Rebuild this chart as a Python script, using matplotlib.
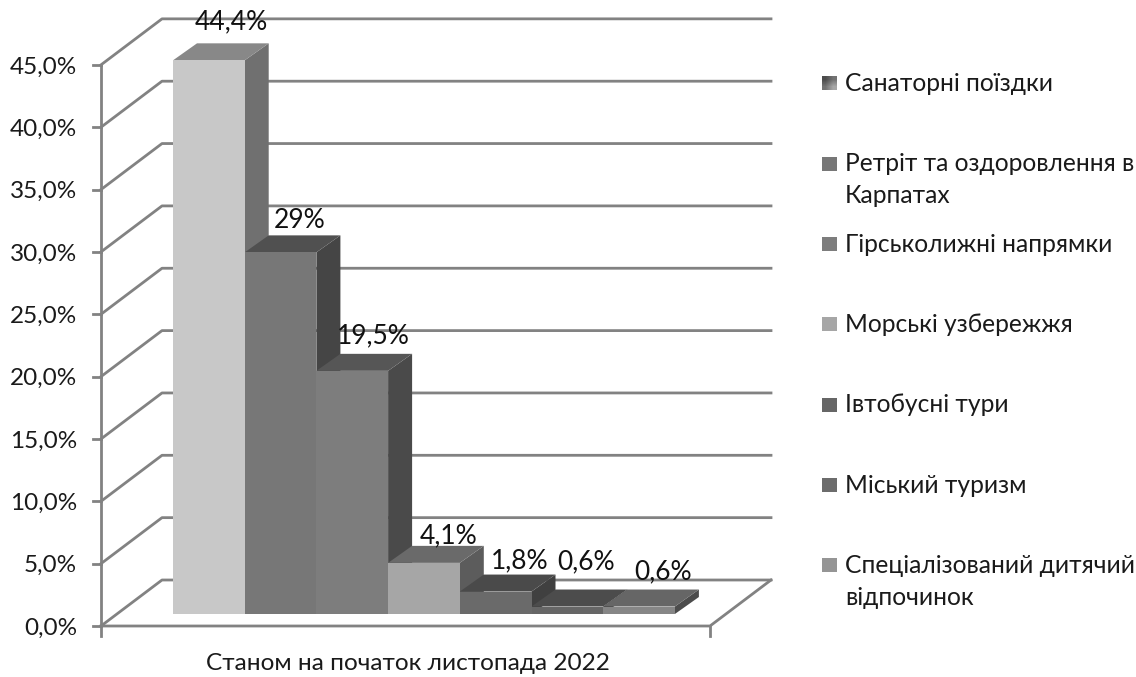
import matplotlib
matplotlib.use("Agg")
import matplotlib.pyplot as plt
from matplotlib.patches import Polygon, Rectangle
import numpy as np

plt.rcParams['font.family'] = ['Lato', 'Noto Sans', 'DejaVu Sans']

# --- data ---
series_names = ["Санаторні поїздки", "Ретріт та оздоровлення в\nКарпатах", "Гірськолижні напрямки",
                "Морські узбережжя", "Івтобусні тури", "Міський туризм",
                "Спеціалізований дитячий\nвідпочинок"]
values = [44.4, 29.0, 19.5, 4.1, 1.8, 0.6, 0.6]
value_labels = ["44,4%", "29%", "19,5%", "4,1%", "1,8%", "0,6%", "0,6%"]
y_ticks = [0, 5, 10, 15, 20, 25, 30, 35, 40, 45]
y_tick_labels = ["0,0%", "5,0%", "10,0%", "15,0%", "20,0%", "25,0%", "30,0%", "35,0%", "40,0%", "45,0%"]
x_label = "Станом на початок листопада 2022"

# --- styles ---
front_cols = ["#c8c8c8", "#777777", "#7d7d7d", "#a6a6a6", "#6a6a6a", "#666666", "#868686"]
side_cols = ["#707070", "#454545", "#4a4a4a", "#5c5c5c", "#404040", "#3e3e3e", "#4c4c4c"]
top_cols = ["#888888", "#505050", "#565656", "#6a6a6a", "#4a4a4a", "#4c4c4c", "#666666"]
swatch_cols = ["#666666", "#777777", "#7d7d7d", "#a6a6a6", "#666666", "#6c6c6c", "#959595"]
label_dx = [0.31, 0.27, 0.30, 0.34, 0.33, 0.26, 0.33]
label_dy = [3.1, 2.55, 2.8, 2.15, 2.43, 3.56, 2.8]

W, H = 1136, 677
PX_X, PX_Y = 71.7, 12.47          # pixels per unit on each data axis
X0_PX, Y0_PX = 173, 626           # pixel of x=0, y=0

fig = plt.figure(figsize=(W / 100, H / 100), dpi=100, facecolor="white")
ax = fig.add_axes([0, 0, 1, 1])
ax.axis("off")

gc = "#828282"
lw = 2.0
x_left, x_right = (101 - X0_PX) / PX_X, (710 - X0_PX) / PX_X
wall_dx, wall_dy = 61 / PX_X, 46 / PX_Y
bar_dx, bar_dy = 24 / PX_X, 17 / PX_Y
base = 12 / PX_Y

# grid on walls
for v, lab in zip(y_ticks, y_tick_labels):
    ax.plot([x_left, x_left + wall_dx, x_right + wall_dx],
            [v, v + wall_dy, v + wall_dy], color=gc, lw=lw, zorder=1, solid_joinstyle="round")
    ax.plot([x_left - 8 / PX_X, x_left], [v, v], color=gc, lw=lw, zorder=1)
    ax.text(x_left - 24 / PX_X, v - 2 / PX_Y, lab, ha="right", va="center",
            fontsize=17.5, color="#1a1a1a")
# floor and axes
ax.plot([x_left, x_right, x_right + wall_dx], [0, 0, wall_dy], color=gc, lw=lw, zorder=1)
ax.plot([x_left, x_left], [-10 / PX_Y, max(y_ticks)], color=gc, lw=lw, zorder=1)
ax.plot([x_right, x_right], [-10 / PX_Y, 0], color=gc, lw=lw, zorder=1)

# bars
for i, v in enumerate(values):
    l, r = i, i + 1
    b, t = base, base + v
    ax.add_patch(Polygon([(r, b), (r + bar_dx, b + bar_dy), (r + bar_dx, t + bar_dy), (r, t)],
                         fc=side_cols[i], ec="none", zorder=2 + (7 - i) * 0.01))
    ax.add_patch(Polygon([(l, t), (r, t), (r + bar_dx, t + bar_dy), (l + bar_dx, t + bar_dy)],
                         fc=top_cols[i], ec="none", zorder=3 + i * 0.01))
    ax.add_patch(Rectangle((l, b), 1, v, fc=front_cols[i], ec="none", zorder=4))
    ax.text(i + 0.5 + label_dx[i], t + label_dy[i], value_labels[i], ha="center", va="center",
            fontsize=19, color="#111111", zorder=6)

ax.text((408 - X0_PX) / PX_X, (Y0_PX - 664) / PX_Y, x_label, ha="center", va="center",
        fontsize=17.6, color="#1a1a1a")

# legend
row_y = 83.5
for k, (name, col) in enumerate(zip(series_names, swatch_cols)):
    sx, sy = (822 - X0_PX) / PX_X, (Y0_PX - row_y - 7) / PX_Y
    if k == 0:
        grad = np.array([[0.30, 0.45], [0.45, 0.65]])
        ax.imshow(grad, extent=(sx, sx + 15 / PX_X, sy, sy + 14 / PX_Y), cmap="gray", vmin=0, vmax=1,
                  aspect="auto", interpolation="bilinear", zorder=2)
    else:
        ax.add_patch(Rectangle((sx, sy), 15 / PX_X, 14 / PX_Y, fc=col, ec="none"))
    for j, line in enumerate(name.split("\n")):
        ax.text((845 - X0_PX) / PX_X, (Y0_PX - row_y - 7.5 - 32 * j) / PX_Y, line, ha="left",
                va="baseline", fontsize=17.7, color="#1a1a1a")
    row_y += 80.3

ax.set_xlim(-X0_PX / PX_X, (W - X0_PX) / PX_X)
ax.set_ylim(-(H - Y0_PX) / PX_Y, Y0_PX / PX_Y)

fig.savefig("out.png", dpi=100, facecolor="white")
